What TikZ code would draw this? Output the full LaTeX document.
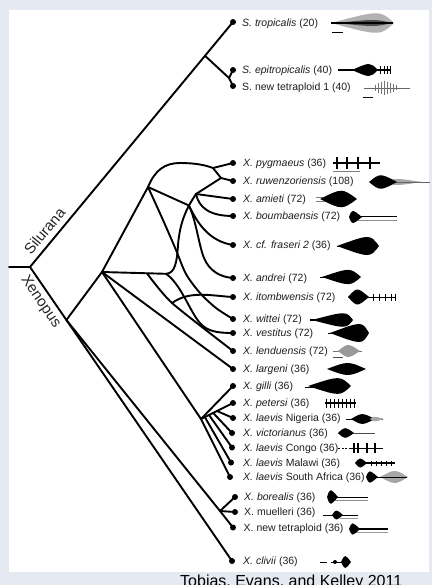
\documentclass[tikz,border=0pt]{standalone}
\usepackage{fontspec}
\setmainfont{Liberation Sans}
\usetikzlibrary{calc}
\definecolor{bgc}{RGB}{229,233,242}
\newcommand{\wvb}[6]{\fill[#6] (#1,#5) .. controls (#3,#5-#4) and (#3,#5-#4) .. (#2,#5) .. controls (#3,#5+#4) and (#3,#5+#4) .. cycle;}
\newcommand{\wvt}[4]{\draw[#4] (#1,#2-#3) -- (#1,#2+#3);}
\newcommand{\wvl}[4]{\draw[#4] (#1,#3) -- (#2,#3);}
\begin{document}
\begin{tikzpicture}[x=1pt,y=-1pt,
  br/.style={line width=1.9pt, black, line cap=round, line join=round},
  dot/.style={circle, fill=black, inner sep=0pt, minimum size=6pt},
  lab/.style={anchor=base west, inner sep=0pt, font=\fontsize{10.5}{12}\selectfont, text=black!88},
  clade/.style={inner sep=0pt, font=\fontsize{15}{18}\selectfont, text=black!85}]
\useasboundingbox (0,0) rectangle (432,585);
\clip (0,0) rectangle (432,585);
\fill[bgc] (0,0) rectangle (432,585);
\fill[white] (9,10) rectangle (429,571.5);

% internal points
\coordinate (L0) at (9,267);
\coordinate (R0) at (30,267);
\coordinate (S1) at (205,55.8);
\coordinate (S2) at (229,78);
\coordinate (C) at (66.4,320);
\coordinate (D) at (102,272);
\coordinate (A2) at (148,187);
\coordinate (T) at (213,168);
\coordinate (R) at (221,178);
\coordinate (B) at (196,194);
\coordinate (J) at (188.9,205.5);
\coordinate (K) at (166,273.8);
\coordinate (K2) at (147,273.4);
\coordinate (E) at (172,303);
\coordinate (G) at (201,419);
\coordinate (F) at (220,511);
% tips
\coordinate (St) at (233,22);
\coordinate (Se) at (233,70);
\coordinate (Sn) at (233,86);
\coordinate (Py) at (233,163);
\coordinate (Ru) at (233,181);
\coordinate (Am) at (233,199);
\coordinate (Bo) at (233,216);
\coordinate (Fr) at (233,245);
\coordinate (An) at (233,278);
\coordinate (It) at (233,297);
\coordinate (Wi) at (233,319);
\coordinate (Ve) at (233,333);
\coordinate (Le) at (233,351);
\coordinate (Lg) at (233,369);
\coordinate (Gi) at (233,386);
\coordinate (Pe) at (233,403);
\coordinate (Ni) at (233,418);
\coordinate (Vi) at (232,433);
\coordinate (Co) at (232,447.5);
\coordinate (Ma) at (231,462.5);
\coordinate (SAf) at (230,477);
\coordinate (Bor) at (235,497);
\coordinate (Mu) at (235,512);
\coordinate (Nt) at (233,527.5);
\coordinate (Cl) at (232,561);
\coordinate (P1) at ($(G)!0.12!(Pe)$);
\coordinate (P2) at ($(G)!0.25!(Pe)$);
\coordinate (P3) at ($(G)!0.38!(Pe)$);
\coordinate (P4) at ($(G)!0.50!(Pe)$);

% Silurana
\draw[br] (L0) -- (R0);
\draw[br] (R0) -- (St);
\draw[br] (S1) -- (S2);
\draw[br] (S2) -- (Se);
\draw[br] (S2) -- (Sn);
% Xenopus backbone
\draw[br] (R0) -- (Cl);
\draw[br] (C) -- (D) -- (A2);
\draw[br] (A2) .. controls (155,170) and (165,163) .. (180,163) .. controls (195,163) and (205,165) .. (T);
\draw[br] (T) -- (Py);
\draw[br] (T) -- (R) -- (Ru);
\draw[br] (B) -- (R);
\draw[br] (B) -- (Am);
\draw[br] (B) .. controls (199,208) and (210,216) .. (Bo);
\draw[br] (B) .. controls (188,206) and (180,220) .. (178,245) .. controls (177,262) and (175,273.5) .. (K) -- (D);
\draw[br] (A2) -- (J);
\draw[br] (J) .. controls (197,222) and (208,241) .. (Fr);
\draw[br] (J) .. controls (196,220) and (199,246) .. (204,258) .. controls (209,270) and (219,277) .. (An);
\draw[br] plot[smooth, tension=0.5] coordinates {(A2) (163,220) (176,250) (186,274) (200,293) (216,308) (Wi)};
\draw[br] (K) .. controls (181,284) and (190,312) .. (200,323) .. controls (207,331) and (216,333) .. (Ve);
\draw[br] plot[smooth, tension=0.4] coordinates {(K2) (E) (Le)};
\draw[br] (E) .. controls (190,290) and (212,296) .. (It);
\draw[br] (D) -- (Lg);
\draw[br] (D) -- (G) -- (SAf);
\draw[br] (G) -- (Gi);
\draw[br] (G) -- (Pe);
\draw[br] (P1) -- (Ma);
\draw[br] (P2) -- (Co);
\draw[br] (P3) -- (Vi);
\draw[br] (P4) -- (Ni);
\draw[br] (C) -- (F) -- (Nt);
\draw[br] (F) -- (Bor);
\draw[br] (F) -- (Mu);

% dots
\foreach \n in {St,Se,Sn,Py,Ru,Am,Bo,Fr,An,It,Wi,Ve,Le,Lg,Gi,Pe,Ni,Vi,Co,Ma,SAf,Bor,Mu,Nt,Cl}
  {\node[dot] (d\n) at (\n) {};}

% clade names
\node[clade, rotate=50.4] (silurana) at (44.5,231) {Silurana};
\node[clade, rotate=-55.5] (xenopus) at (40.5,302) {Xenopus};

% labels
\node[lab] (tSt) at (242,26.8) {\textit{S. tropicalis} (20)};
\node[lab] (tSe) at (242,73.8) {\textit{S. epitropicalis} (40)};
\node[lab] (tSn) at (242,90.8) {S. new tetraploid 1 (40)};
\node[lab] (tPy) at (243,166.8) {\textit{X. pygmaeus} (36)};
\node[lab] (tRu) at (243,184.8) {\textit{X. ruwenzoriensis} (108)};
\node[lab] (tAm) at (243,202.8) {\textit{X. amieti} (72)};
\node[lab] (tBo) at (243,219.8) {\textit{X. boumbaensis} (72)};
\node[lab] (tFr) at (243,248.8) {\textit{X. cf. fraseri 2} (36)};
\node[lab] (tAn) at (243,281.8) {\textit{X. andrei} (72)};
\node[lab] (tIt) at (243,300.8) {\textit{X. itombwensis} (72)};
\node[lab] (tWi) at (243,322.8) {\textit{X. wittei} (72)};
\node[lab] (tVe) at (243,336.8) {\textit{X. vestitus} (72)};
\node[lab] (tLe) at (243,354.8) {\textit{X. lenduensis} (72)};
\node[lab] (tLg) at (243,372.8) {\textit{X. largeni} (36)};
\node[lab] (tGi) at (243,389.8) {\textit{X. gilli} (36)};
\node[lab] (tPe) at (243,406.8) {\textit{X. petersi} (36)};
\node[lab] (tNi) at (243,421.8) {\textit{X. laevis} Nigeria (36)};
\node[lab] (tVi) at (243,436.8) {\textit{X. victorianus} (36)};
\node[lab] (tCo) at (243,451.3) {\textit{X. laevis} Congo (36)};
\node[lab] (tMa) at (243,466.3) {\textit{X. laevis} Malawi (36)};
\node[lab] (tSAf) at (243,480.8) {\textit{X. laevis} South Africa (36)};
\node[lab] (tBor) at (244,500.8) {\textit{X. borealis} (36)};
\node[lab] (tMu) at (244,515.8) {X. muelleri (36)};
\node[lab] (tNt) at (243.5,531.3) {X. new tetraploid (36)};
\node[lab] (tCl) at (243,564.8) {\textit{X. clivii} (36)};

% call waveforms
\wvb{331}{394}{380}{13}{23}{black!30}
\wvb{336}{392}{375}{4}{23}{black!70}
\wvl{331}{393}{23}{line width=1.2pt}
\wvl{332}{343}{32}{line width=0.8pt}
\wvl{338}{391}{70}{line width=1.3pt}
\wvb{352}{378}{370}{8}{70}{black}
\foreach \xx in {380,384,387,390} {\wvt{\xx}{70}{4}{line width=0.8pt}}
\wvl{364}{410}{88}{line width=0.7pt, black!60}
\foreach \xx/\hh in {375/3,378/5,381/6,384/7,387/6,390/5,393/4,396/2.5} {\wvt{\xx}{88}{\hh}{line width=0.6pt, black!55}}
\wvl{363}{373}{97}{line width=0.8pt}
\wvl{333}{380}{163}{line width=1.3pt}
\foreach \xx in {337,347,358,370} {\wvt{\xx}{163}{6}{line width=1.2pt}}
\wvl{333}{360}{171.5}{line width=0.4pt, black!50}
\wvb{383}{422}{395}{4}{182}{black!35}
\wvl{395}{430}{182}{line width=0.7pt, black!60}
\wvb{369}{397}{380}{9}{182}{black}
\wvl{316}{332}{197}{line width=0.4pt, black!50}
\wvl{316}{332}{201.5}{line width=0.4pt, black!50}
\wvb{320}{357}{342}{11}{199}{black}
\wvl{352}{397}{216}{line width=0.8pt}
\wvl{358}{397}{220}{line width=0.5pt, black!45}
\wvb{349}{362}{352}{8}{217}{black}
\wvl{337}{360}{246}{line width=1pt}
\wvb{337}{379}{370}{12}{246}{black}
\wvl{320}{345}{277}{line width=1pt}
\wvb{322}{361}{350}{9.5}{277}{black}
\wvl{350}{395}{297}{line width=0.6pt}
\wvb{348}{369}{357}{10}{297}{black}
\foreach \xx in {373,379,385,391,395} {\wvt{\xx}{297}{3.5}{line width=0.6pt}}
\wvl{310}{352}{320}{line width=1.2pt}
\wvb{312}{353}{346}{9}{320}{black}
\wvl{328}{368}{333}{line width=1pt}
\wvb{330}{369}{362}{12}{333}{black}
\wvl{333}{362}{351}{line width=0.8pt, black!55}
\wvb{338}{360}{348}{8}{351}{black!40}
\wvl{333}{343}{357}{line width=0.7pt, black!70}
\wvb{327}{366}{348}{8}{369}{black}
\wvl{305}{330}{387}{line width=0.8pt}
\wvb{308}{351}{340}{10.5}{386}{black}
\wvl{325}{356}{403}{line width=1.2pt}
\foreach \xx in {326,330,334,338,342,346,350,354} {\wvt{\xx}{403}{4.5}{line width=1pt}}
\wvl{346}{383}{419}{line width=0.9pt}
\wvb{351}{375}{362}{6.5}{419}{black}
\wvb{370}{384}{374}{3}{419}{black!35}
\wvl{338}{375}{433.5}{line width=0.8pt, black!70}
\wvb{338}{354}{345}{6.5}{433}{black}
\draw[line width=0.8pt, dash pattern=on 2pt off 1.5pt] (338,448) -- (350,448);
\wvl{350}{383}{448}{line width=0.9pt}
\foreach \xx in {354,358,367,375} {\wvt{\xx}{448}{5}{line width=1.1pt}}
\wvl{356}{395}{463}{line width=1.6pt}
\wvb{355}{367}{360}{6}{463}{black}
\foreach \xx in {371,376,381,386,391} {\wvt{\xx}{463}{2.5}{line width=0.6pt}}
\wvb{380}{408}{395}{8}{477}{black!35}
\wvl{367}{407}{477.5}{line width=1.3pt}
\wvb{366}{378}{369}{7.5}{477}{black}
\wvl{328}{368}{497}{line width=1pt}
\wvl{335}{368}{500}{line width=0.5pt, black!45}
\wvb{327}{338}{330}{9}{497}{black}
\wvl{323}{358}{515.5}{line width=0.9pt}
\wvb{332}{343}{336}{6}{515}{black}
\wvl{340}{358}{518}{line width=0.5pt, black!40}
\wvl{350}{388}{529}{line width=1.1pt}
\wvl{356}{388}{532}{line width=0.5pt, black!40}
\wvb{349}{360}{352}{7.5}{529}{black}
\wvl{320}{327}{562}{line width=1pt}
\wvl{331}{347}{562}{line width=0.9pt}
\fill (335,562) circle (2pt);
\wvb{341}{351}{345}{8}{562}{black}

% credit
\node[anchor=base west, inner sep=0pt, font=\fontsize{16}{19}\selectfont] (credit) at (180,586.5) {Tobias, Evans, and Kelley 2011};
\end{tikzpicture}
\end{document}
